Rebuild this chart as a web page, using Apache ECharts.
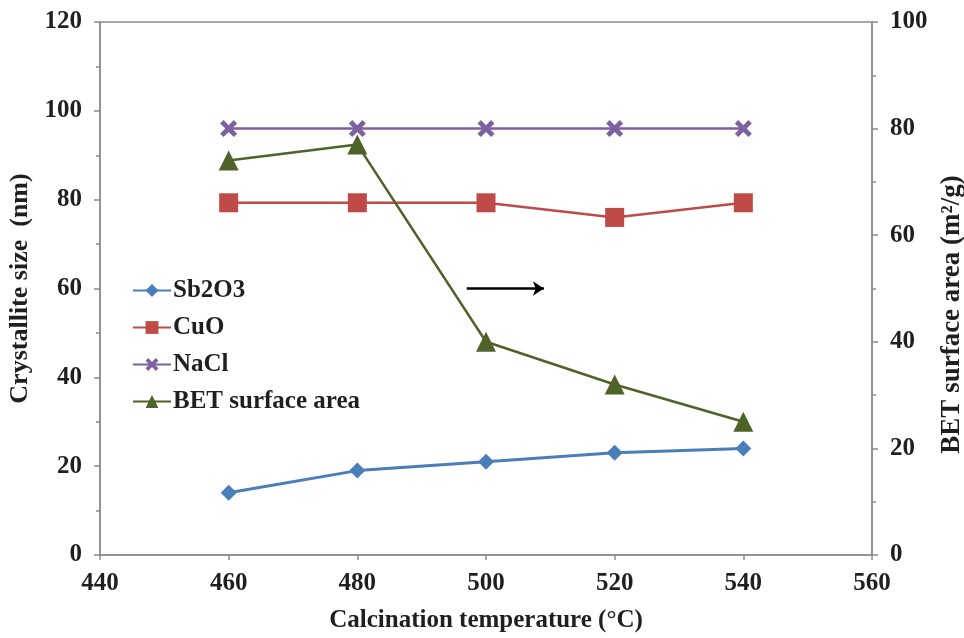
<!DOCTYPE html>
<html>
<head>
<meta charset="utf-8">
<script src="https://cdn.jsdelivr.net/npm/echarts@6/dist/echarts.min.js"></script>
<style>
  html, body { margin: 0; padding: 0; background: #fff; overflow: hidden; }
  #chart { width: 964px; height: 638px; }
</style>
</head>
<body>
<div id="chart"></div>
<script>
// Calcination temperature (°C)
const temperatures = [460, 480, 500, 520, 540];
// Crystallite size (nm), left axis
const sb2o3 = [14, 19, 21, 23, 24];
const cuo = [79.3, 79.3, 79.3, 76, 79.3];
const nacl = [96, 96, 96, 96, 96];
// BET surface area (m²/g), right axis
const bet = [74, 77, 40, 32, 25];

const pairs = (ys) => temperatures.map((t, i) => [t, ys[i]]);

const FONT = '"Liberation Serif", "Times New Roman", serif';
const TEXT = '#1f1f1f';
const AXIS = '#8c8c8c';
const crossPath = 'path://M2,0 L5,3 L8,0 L10,2 L7,5 L10,8 L8,10 L5,7 L2,10 L0,8 L3,5 L0,2 Z';

const labelStyle = { color: TEXT, fontFamily: FONT, fontWeight: 'bold', fontSize: 25 };

const chart = echarts.init(document.getElementById('chart'), null, { renderer: 'canvas' });
chart.setOption({
  animation: false,
  backgroundColor: '#fff',
  grid: {
    left: 100, right: 92, top: 22, bottom: 83,
    outerBoundsMode: 'none', containLabel: false,
    show: true, borderColor: AXIS, borderWidth: 1.5
  },
  legend: {
    orient: 'vertical',
    left: 127, top: 273,
    itemWidth: 38, itemHeight: 16, itemGap: 12,
    textStyle: { color: TEXT, fontFamily: FONT, fontWeight: 'bold', fontSize: 25, padding: [0, 0, 0, -3] },
    data: ['Sb2O3', 'CuO', 'NaCl', 'BET surface area']
  },
  xAxis: {
    type: 'value', min: 440, max: 560, interval: 20,
    name: 'Calcination temperature (°C)', nameLocation: 'middle', nameGap: 53,
    nameTextStyle: labelStyle,
    axisLine: { lineStyle: { color: AXIS, width: 1.5 } },
    axisTick: { show: true, length: 5, lineStyle: { color: AXIS, width: 1.5 } },
    axisLabel: Object.assign({ margin: 16 }, labelStyle),
    splitLine: { show: false }
  },
  yAxis: [{
    type: 'value', min: 0, max: 120, interval: 20, position: 'left',
    name: 'Crystallite size  (nm)', nameLocation: 'middle', nameGap: 65,
    nameTextStyle: Object.assign({}, labelStyle, { fontSize: 26 }),
    axisLine: { show: true, lineStyle: { color: AXIS, width: 1.5 } },
    axisTick: { show: true, length: 6, lineStyle: { color: AXIS, width: 1.5 } },
    minorTick: { show: true, splitNumber: 2, length: 4, lineStyle: { color: AXIS, width: 1.5 } },
    axisLabel: Object.assign({ margin: 18 }, labelStyle),
    splitLine: { show: false }
  }, {
    type: 'value', min: 0, max: 100, interval: 20, position: 'right',
    name: 'BET surface area (m²/g)', nameLocation: 'middle', nameGap: 65,
    nameTextStyle: Object.assign({}, labelStyle, { fontSize: 27, padding: [0, 52, 0, 0] }),
    axisLine: { show: true, lineStyle: { color: AXIS, width: 1.5 } },
    axisTick: { show: true, length: 6, lineStyle: { color: AXIS, width: 1.5 } },
    minorTick: { show: true, splitNumber: 2, length: 4, lineStyle: { color: AXIS, width: 1.5 } },
    axisLabel: Object.assign({ margin: 18 }, labelStyle),
    splitLine: { show: false }
  }],
  series: [{
    name: 'Sb2O3', type: 'line', yAxisIndex: 0, data: pairs(sb2o3),
    symbol: 'diamond', symbolSize: 16,
    lineStyle: { color: '#4a7ebb', width: 3 }, itemStyle: { color: '#4a7ebb' }
  }, {
    name: 'CuO', type: 'line', yAxisIndex: 0, data: pairs(cuo),
    symbol: 'rect', symbolSize: 19,
    lineStyle: { color: '#be4b48', width: 2.5 }, itemStyle: { color: '#be4b48' }
  }, {
    name: 'NaCl', type: 'line', yAxisIndex: 0, data: pairs(nacl),
    symbol: crossPath, symbolSize: 17,
    lineStyle: { color: '#7d60a0', width: 2.5 }, itemStyle: { color: '#7d60a0' }
  }, {
    name: 'BET surface area', type: 'line', yAxisIndex: 1, data: pairs(bet),
    symbol: 'triangle', symbolSize: 20,
    lineStyle: { color: '#4f6228', width: 2.5 }, itemStyle: { color: '#4f6228' },
    // arrow pointing to the right-hand axis
    markLine: {
      silent: true, animation: false,
      symbol: ['none', 'arrow'], symbolSize: 11,
      label: { show: false },
      emphasis: { disabled: true },
      lineStyle: { color: '#000', width: 2.5, type: 'solid' },
      data: [[{ coord: [497, 50] }, { coord: [509, 50] }]]
    }
  }]
});
</script>
</body>
</html>
